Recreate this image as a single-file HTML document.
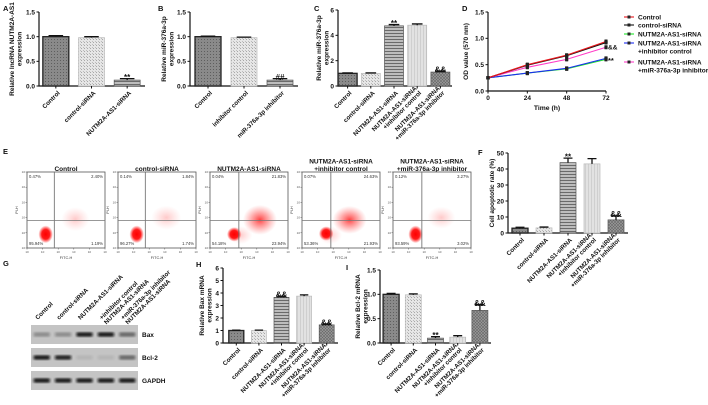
<!DOCTYPE html>
<html><head><meta charset="utf-8"><style>
html,body{margin:0;padding:0;background:#fff;}
svg{display:block;font-family:"Liberation Sans",Arial,sans-serif;}
</style></head><body>
<svg id="fig" width="708" height="405" viewBox="0 0 708 405" xmlns="http://www.w3.org/2000/svg">
<defs>
<pattern id="p1" width="3" height="3" patternUnits="userSpaceOnUse"><rect width="3" height="3" fill="#8a8a8a"/><rect width="1" height="1" fill="#5e5e5e"/></pattern>
<pattern id="p2" width="3" height="3" patternUnits="userSpaceOnUse"><rect width="3" height="3" fill="#e6e6e6"/><rect width="1" height="1" fill="#a8a8a8"/><rect x="2" y="2" width="1" height="1" fill="#bdbdbd"/></pattern>
<pattern id="p3" width="4" height="3" patternUnits="userSpaceOnUse"><rect width="4" height="3" fill="#bdbdbd"/><rect width="4" height="1" fill="#6a6a6a"/></pattern>
<pattern id="p4" width="3" height="4" patternUnits="userSpaceOnUse"><rect width="3" height="4" fill="#e2e2e2"/><rect width="1" height="4" fill="#cfcfcf"/></pattern>
<pattern id="p5" width="3" height="3" patternUnits="userSpaceOnUse"><rect width="3" height="3" fill="#9a9a9a"/><path d="M0,0L3,3M3,0L0,3" stroke="#666" stroke-width="0.6"/></pattern>
<radialGradient id="blob"><stop offset="0" stop-color="#f00" stop-opacity="1"/><stop offset="0.55" stop-color="#f00" stop-opacity="0.9"/><stop offset="1" stop-color="#f00" stop-opacity="0"/></radialGradient>
<radialGradient id="haze"><stop offset="0" stop-color="#f22" stop-opacity="0.85"/><stop offset="0.5" stop-color="#f44" stop-opacity="0.45"/><stop offset="1" stop-color="#f66" stop-opacity="0"/></radialGradient>
<radialGradient id="faint"><stop offset="0" stop-color="#f66" stop-opacity="0.35"/><stop offset="1" stop-color="#f88" stop-opacity="0"/></radialGradient>
<filter id="bl"><feGaussianBlur stdDeviation="1.2"/></filter>
</defs>
</svg>
<script>
// ---------- data ----------
const catsA = ["Control","control-siRNA","NUTM2A-AS1-siRNA"];
const valsA = [1.0, 0.98, 0.12];
const errA = [0.02, 0.02, 0.03];
const ticksA = [0, 0.5, 1.0, 1.5];
const catsB = ["Control","inhibitor control","miR-376a-3p inhibitor"];
const valsB = [1.0, 0.98, 0.12];
const errB = [0.01, 0.01, 0.03];
const cats5 = ["Control","control-siRNA","NUTM2A-AS1-siRNA","NUTM2A-AS1-siRNA\n+inhibitor control","NUTM2A-AS1-siRNA\n+miR-376a-3p inhibitor"];
const valsC = [1.0, 1.0, 4.75, 4.8, 1.1];
const errC = [0.03, 0.03, 0.1, 0.1, 0.08];
const ticksC = [0, 2, 4, 6];
const valsF = [3.0, 3.2, 44, 43.2, 8.2];
const errF = [0.6, 0.5, 2.8, 3.3, 2.6];
const ticksF = [0, 10, 20, 30, 40, 50];
const valsH = [1.0, 1.0, 3.65, 3.75, 1.45];
const errH = [0.03, 0.03, 0.1, 0.1, 0.08];
const ticksH = [0, 1, 2, 3, 4, 5, 6];
const valsI = [1.0, 0.99, 0.1, 0.12, 0.67];
const errI = [0.02, 0.02, 0.03, 0.03, 0.12];
const ticksI = [0, 0.5, 1.0, 1.5];
const timesD = [0, 24, 48, 72];
const ticksDx = [0, 24, 48, 72];
const ticksDy = [0.0, 0.5, 1.0, 1.5];
const seriesNamesD = ["Control","control-siRNA","NUTM2A-AS1-siRNA","NUTM2A-AS1-siRNA\n+inhibitor control","NUTM2A-AS1-siRNA\n+miR-376a-3p inhibitor"];
const dControl = [0.25, 0.50, 0.68, 0.94];
const dCtrlSi = [0.25, 0.49, 0.67, 0.92];
const dSi = [0.25, 0.34, 0.42, 0.60];
const dSiInh = [0.25, 0.34, 0.43, 0.62];
const dSiMiR = [0.25, 0.45, 0.60, 0.83];
const flowTitles = ["Control","control-siRNA","NUTM2A-AS1-siRNA","NUTM2A-AS1-siRNA\n+inhibitor control","NUTM2A-AS1-siRNA\n+miR-376a-3p inhibitor"];
const flowUL = ["0.47%","0.14%","0.04%","0.07%","0.12%"];
const flowUR = ["2.40%","1.84%","21.83%","24.63%","3.27%"];
const flowLL = ["95.94%","96.27%","54.18%","53.36%","93.59%"];
const flowLR = ["1.19%","1.74%","23.94%","21.93%","3.02%"];
const blotRows = ["Bax","Bcl-2","GAPDH"];
const blotBax = [0.3, 0.3, 0.95, 0.95, 0.5];
const blotBcl = [0.95, 0.9, 0.08, 0.08, 0.5];
const blotGapdh = [0.95, 0.95, 0.95, 0.95, 0.95];

// ---------- helpers ----------
const NS = "http://www.w3.org/2000/svg";
const svg = document.getElementById("fig");
function mk(tag, attrs, parent) {
  const e = document.createElementNS(NS, tag);
  for (const k in attrs) e.setAttribute(k, attrs[k]);
  (parent || svg).appendChild(e);
  return e;
}
function txt(s, x, y, size, opts, parent) {
  const o = Object.assign({x: x, y: y, "font-size": size, fill: "#111", "font-weight": "bold"}, opts || {});
  const t = mk("text", o, parent);
  t.textContent = s;
  return t;
}
function multi(s, x, y, size, opts, parent, lh) {
  const g = mk("g", {}, parent);
  const lines = s.split("\n");
  lines.forEach((l, i) => { txt(l, x, y + i * (lh || size * 1.1), size, opts, g); });
  return g;
}
const fills = ["url(#p1)","url(#p2)","url(#p3)","url(#p4)","url(#p5)"];

function barChart(cfg) {
  const g = mk("g", {});
  
  
  const y = v => cfg.y0 - (v / cfg.max) * (cfg.y0 - cfg.y1);
  const n = cfg.vals.length;
  const band = (cfg.r1 - cfg.r0) / n;
  const cx = i => cfg.r0 + band * (i + 0.5);
  // axes
  const ax = mk("path", {d: `M${cfg.ax},${cfg.y1}V${cfg.y0}H${cfg.r1}`, stroke: "#111", "stroke-width": 1.2, fill: "none"}, g);
  
  
  cfg.ticks.forEach(t => {
    mk("line", {x1: cfg.ax - 2.5, x2: cfg.ax, y1: y(t), y2: y(t), stroke: "#111", "stroke-width": 1}, g);
    const tl = txt(cfg.fmt ? cfg.fmt(t) : String(t), cfg.ax - 4, y(t) + 2.4, 6.5, {"text-anchor": "end"}, g);
    
    
  });
  cfg.vals.forEach((v, i) => {
    const w = cfg.bw;
    const r = mk("rect", {x: cx(i) - w / 2, y: y(v), width: w, height: cfg.y0 - y(v), fill: fills[i], stroke: i === 0 ? "#222" : (i === 1 || i === 3 ? "#bbb" : "#555"), "stroke-width": i === 0 ? 1.3 : 0.7}, g);
    
    
    const e = cfg.err[i];
    mk("path", {d: `M${cx(i)},${y(v)}V${y(v + e)}M${cx(i) - w * 0.28},${y(v + e)}H${cx(i) + w * 0.28}`, stroke: "#111", "stroke-width": 1.3, fill: "none"}, g);
    mk("line", {x1: cx(i), x2: cx(i), y1: cfg.y0, y2: cfg.y0 + 2.5, stroke: "#111", "stroke-width": 1}, g);
    const lab = mk("g", {transform: `translate(${cx(i) + 3},${cfg.y0 + 6}) rotate(-45)`}, g);
    
    
    const lines = cfg.cats[i].split("\n");
    lines.forEach((l, k) => txt(l, 0, (k - (lines.length - 1)) * 6.5 + 2, 6.2, {"text-anchor": "end"}, lab));
    if (cfg.ann && cfg.ann[i]) {
      const a = txt(cfg.ann[i], cx(i), y(v + e) + 1.5, 8, {"text-anchor": "middle"}, g);
      
      
    }
  });
  const yt = mk("g", {transform: `translate(${cfg.tx},${(cfg.y0 + cfg.y1) / 2}) rotate(-90)`}, g);
  
  
  const tl = cfg.title.split("\n");
  tl.forEach((l, k) => txt(l, 0, k * 7.5, 6.5, {"text-anchor": "middle"}, yt));
  const pl = txt(cfg.letter, cfg.lx, cfg.ly, 7.5, {}, g);
  
  
}
const f1 = t => t.toFixed(1);

barChart({name: "panel-a-chart", vals: valsA, err: errA, cats: catsA, ticks: ticksA, fmt: f1, max: 1.5, ax: 39, r0: 38, r1: 145, y0: 86, y1: 12, bw: 26, ann: ["", "", "**"], title: "Relative lncRNA NUTM2A-AS1\nexpression", tx: 14, letter: "A", lx: 3, ly: 11});
barChart({name: "panel-b-chart", vals: valsB, err: errB, cats: catsB, ticks: ticksA, fmt: f1, max: 1.5, ax: 190, r0: 190, r1: 298, y0: 86, y1: 12, bw: 26, ann: ["", "", "##"], title: "Relative miR-376a-3p\nexpression", tx: 166, letter: "B", lx: 158, ly: 11});
barChart({name: "panel-c-chart", vals: valsC, err: errC, cats: cats5, ticks: ticksC, max: 6, ax: 338, r0: 336, r1: 452, y0: 86, y1: 10, bw: 19, ann: ["", "", "**", "", "&&"], title: "Relative miR-376a-3p\nexpression", tx: 321, letter: "C", lx: 314, ly: 11});
barChart({name: "panel-f-chart", vals: valsF, err: errF, cats: cats5, ticks: ticksF, max: 50, ax: 508, r0: 508, r1: 628, y0: 233, y1: 153, bw: 16, ann: ["", "", "**", "", "&&"], title: "Cell apoptotic rate (%)", tx: 494, letter: "F", lx: 478, ly: 155});
barChart({name: "panel-h-chart", vals: valsH, err: errH, cats: cats5, ticks: ticksH, max: 6, ax: 223, r0: 225, r1: 338, y0: 343, y1: 268, bw: 15, ann: ["", "", "&&", "", "&&"], title: "Relative Bax mRNA\nexpression", tx: 204, letter: "H", lx: 196, ly: 267});
barChart({name: "panel-i-chart", vals: valsI, err: errI, cats: cats5, ticks: ticksI, fmt: f1, max: 1.5, ax: 380, r0: 380, r1: 491, y0: 343, y1: 270, bw: 16, ann: ["", "", "**", "", "&&"], title: "Relative Bcl-2 mRNA\nexpression", tx: 360, letter: "I", lx: 346, ly: 270});

// ---------- panel D line chart ----------
(function () {
  const g = mk("g", {});
  
  
  const X0 = 488, X1 = 606, Y0 = 91, Y1 = 12;
  const xs = t => X0 + (t / 72) * (X1 - X0);
  const ys = v => Y0 - (v / 1.5) * (Y0 - Y1);
  mk("path", {d: `M${X0},${Y1}V${Y0}H${X1}`, stroke: "#111", "stroke-width": 1.2, fill: "none"}, g);
  ticksDy.forEach(t => {
    mk("line", {x1: X0 - 2.5, x2: X0, y1: ys(t), y2: ys(t), stroke: "#111"}, g);
    txt(t.toFixed(1), X0 - 4, ys(t) + 2.4, 6.5, {"text-anchor": "end"}, g);
  });
  ticksDx.forEach(t => {
    mk("line", {x1: xs(t), x2: xs(t), y1: Y0, y2: Y0 + 2.5, stroke: "#111"}, g);
    txt(String(t), xs(t), Y0 + 9, 6.5, {"text-anchor": "middle"}, g);
  });
  const xt = txt("Time (h)", (X0 + X1) / 2, 110, 6.8, {"text-anchor": "middle"}, g);
  
  
  const yt = txt("OD value (570 nm)", 0, 0, 6.5, {"text-anchor": "middle", transform: `translate(468,${(Y0 + Y1) / 2}) rotate(-90)`}, g);
  
  
  const series = [dControl, dCtrlSi, dSi, dSiInh, dSiMiR];
  const colors = ["#e8151b", "#111", "#1ee62a", "#1a2cf0", "#ff3ec8"];
  const order = [2, 3, 4, 1, 0];
  order.forEach(si => {
    const d = series[si];
    const p = mk("polyline", {points: d.map((v, i) => xs(timesD[i]) + "," + ys(v)).join(" "), fill: "none", stroke: colors[si], "stroke-width": 1.1}, g);
    
    
    d.forEach((v, i) => {
      const m = mk("rect", {x: xs(timesD[i]) - 1.6, y: ys(v) - 1.6, width: 3.2, height: 3.2, fill: "#222"}, g);
      
      
      if (i > 0) mk("path", {d: `M${xs(timesD[i]) - 1.5},${ys(v + 0.03)}H${xs(timesD[i]) + 1.5}M${xs(timesD[i])},${ys(v + 0.03)}V${ys(v - 0.03)}M${xs(timesD[i]) - 1.5},${ys(v - 0.03)}H${xs(timesD[i]) + 1.5}`, stroke: "#222", "stroke-width": 0.8}, g);
    });
  });
  txt("&&", X1 + 2, ys(dSiMiR[3]) + 2, 6.5, {}, g);
  txt("**", X1 + 2, ys(dSi[3]) + 3.5, 7.5, {}, g);
  const legY = [17, 25, 34, 43, 62];
  seriesNamesD.forEach((nm, i) => {
    const le = mk("g", {}, g);
    
    
    mk("line", {x1: 624, x2: 634, y1: legY[i], y2: legY[i], stroke: colors[i], "stroke-width": 1.1}, le);
    mk("rect", {x: 627.5, y: legY[i] - 1.5, width: 3, height: 3, fill: "#222"}, le);
    multi(nm, 638, legY[i] + 2.3, 6.5, {}, le, 8);
  });
  txt("D", 462, 11, 7.5, {}, g);
})();

// ---------- panel E flow plots ----------
(function () {
  txt("E", 3, 154, 7.5, {});
  const starts = [27, 118, 210, 302, 393];
  const W = 78, T = 172, B = 248, H = B - T;
  const live = [[0.24, 0.82, 9, 11], [0.24, 0.82, 9, 11], [0.31, 0.82, 9, 9], [0.31, 0.81, 9, 9], [0.29, 0.82, 9, 11]];
  const apo = [[0.62, 0.62, 14, 12, "faint"], [0.62, 0.6, 15, 12, "faint"], [0.64, 0.63, 17, 15, "haze"], [0.61, 0.63, 17, 14, "haze"], [0.62, 0.6, 14, 11, "faint"]];
  starts.forEach((x0, k) => {
    const g = mk("g", {});
    
    
    const lines = flowTitles[k].split("\n");
    lines.forEach((l, i) => txt(l, x0 + W / 2, 171 - (lines.length - 1 - i) * 7.5, 6.5, {"text-anchor": "middle"}, g));
    mk("rect", {x: x0, y: T, width: W, height: H, fill: "#fff", stroke: "#555", "stroke-width": 0.8}, g);
    const a = apo[k];
    mk("ellipse", {cx: x0 + a[0] * W, cy: T + a[1] * H, rx: a[2], ry: a[3], fill: `url(#${a[4]})`}, g);
    if (a[4] === "haze") mk("ellipse", {cx: x0 + (a[0] - 0.25) * W, cy: T + (a[1] + 0.2) * H, rx: 12, ry: 9, fill: "url(#faint)"}, g);
    const l = live[k];
    mk("ellipse", {cx: x0 + l[0] * W, cy: T + l[1] * H, rx: l[2] * 0.8, ry: l[3] * 0.8, fill: "url(#blob)"}, g);
    const vx = x0 + (k < 2 ? 0.35 : 0.37) * W, hy = T + 0.64 * H;
    mk("line", {x1: vx, x2: vx, y1: T, y2: B, stroke: "#666", "stroke-width": 0.8}, g);
    mk("line", {x1: x0, x2: x0 + W, y1: hy, y2: hy, stroke: "#777", "stroke-width": 0.8}, g);
    const q = [[flowUL[k], x0 + 2, T + 6, "start"], [flowUR[k], x0 + W - 2, T + 6, "end"], [flowLL[k], x0 + 2, B - 3, "start"], [flowLR[k], x0 + W - 2, B - 3, "end"]];
    q.forEach(c => {
      const t = txt(c[0], c[1], c[2], 4.2, {"text-anchor": c[3], "font-weight": "normal", fill: "#333"}, g);
      
      
    });
    for (let i = 0; i <= 5; i++) {
      mk("line", {x1: x0 + i * W / 5, x2: x0 + i * W / 5, y1: B, y2: B + 1.5, stroke: "#555", "stroke-width": 0.5}, g);
      mk("line", {x1: x0 - 1.5, x2: x0, y1: T + i * H / 5, y2: T + i * H / 5, stroke: "#555", "stroke-width": 0.5}, g);
      txt("10", x0 + i * W / 5, B + 5, 3, {"text-anchor": "middle", "font-weight": "normal", fill: "#555"}, g);
      txt("10", x0 - 2, T + i * H / 5 + 1, 3, {"text-anchor": "end", "font-weight": "normal", fill: "#555"}, g);
    }
    txt("FITC-H", x0 + W / 2, 259, 3.8, {"text-anchor": "middle", "font-weight": "normal", fill: "#333"}, g);
    txt("PI-H", 0, 0, 3.8, {"text-anchor": "middle", "font-weight": "normal", fill: "#333", transform: `translate(${x0 - 9},${T + H / 2}) rotate(-90)`}, g);
  });
})();

// ---------- panel G blot ----------
(function () {
  const g = mk("g", {});
  
  
  txt("G", 3, 266, 7.5, {}, g);
  const X0 = 31, X1 = 138;
  const rowsY = [[325, 344], [348, 367], [371, 390]];
  const dens = [blotBax, blotBcl, blotGapdh];
  const lw = (X1 - X0) / 5;
  rowsY.forEach((r, ri) => {
    mk("rect", {x: X0, y: r[0], width: X1 - X0, height: r[1] - r[0], fill: "#c4c4c4"}, g);
    dens[ri].forEach((d, li) => {
      const b = mk("rect", {x: X0 + li * lw + 2.5, y: (r[0] + r[1]) / 2 - 2.3, width: lw - 5, height: 4.6, rx: 2, fill: "#111", opacity: d, filter: "url(#bl)"}, g);
      
      
    });
    const t = txt(blotRows[ri], 142, (r[0] + r[1]) / 2 + 2.5, 6.5, {}, g);
    
    
  });
  cats5.forEach((c, li) => {
    const cx = X0 + lw * (li + 0.5);
    const lab = mk("g", {transform: `translate(${cx - 4},320) rotate(-45)`}, g);
    
    
    const ls = c.split("\n");
    ls.forEach((l, k) => txt(l, 0, (k - (ls.length - 1)) * -6.5 , 6.2, {"text-anchor": "start"}, lab));
  });
})();
</script>
</body></html>
